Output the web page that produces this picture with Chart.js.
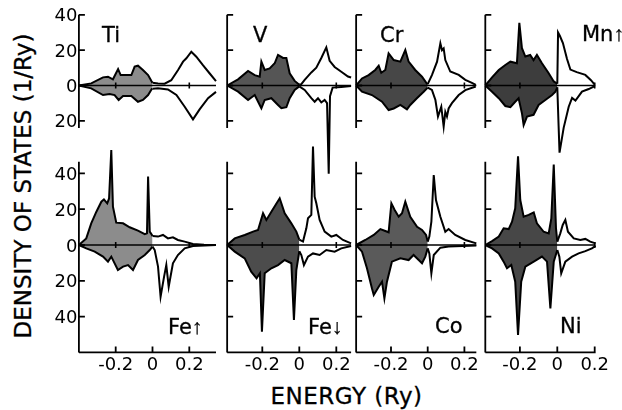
<!DOCTYPE html>
<html lang="en">
<head>
<meta charset="UTF-8" />
<title>Density of states</title>
<script src="https://cdn.jsdelivr.net/npm/chart.js"></script>
<style>
  body { margin: 0; background: #fff; }
  #fig { position: relative; width: 622px; height: 410px; overflow: hidden; font-family: "DejaVu Sans", sans-serif; color: #000; }
  #fig canvas { position: absolute; left: 0; top: 0; }
  .lbl { position: absolute; font-size: 21px; line-height: 21px; white-space: nowrap; -webkit-text-stroke: 0.3px #000; }
  .arrow { font-family: "Liberation Sans", sans-serif; }
  #ytitle { position: absolute; left: -137.5px; top: 173px; width: 320px; height: 26px; line-height: 26px; font-size: 23px; text-align: center; transform: rotate(-90deg); white-space: nowrap; -webkit-text-stroke: 0.3px #000; }
  #xtitle { position: absolute; left: 246.5px; width: 200px; top: 385px; font-size: 23px; line-height: 23px; text-align: center; letter-spacing: 0.5px; white-space: nowrap; -webkit-text-stroke: 0.3px #000; }
</style>
</head>
<body>
<div id="fig">
  <div id="ytitle">DENSITY OF STATES (1/Ry)</div>
  <div id="xtitle">ENERGY (Ry)</div>
</div>
<script>
  // ticks
  const energyTicks = [-0.2, 0, 0.2];
  const dosTicksTop = [40, 20, 0, -20];
  const dosTicksBottom = [40, 20, 0, -20, -40];

  const metals = ['Ti', 'V', 'Cr', 'Mn↑', 'Fe↑', 'Fe↓', 'Co', 'Ni'];

  // [energy (Ry), DOS (1/Ry)] ; majority up, minority plotted negative
  const tiUp = [[-0.4,0],[-0.333,1.2],[-0.269,4.6],[-0.242,5.0],[-0.215,3.5],[-0.187,9.3],[-0.173,5.9],[-0.115,5.9],[-0.097,10.7],[-0.079,11.2],[-0.052,8.8],[-0.024,5.9],[-0.006,2.5],[0,1.5],[0.030,1.2],[0.066,1.0],[0.102,3.0],[0.139,8.8],[0.166,13.5],[0.184,15.4],[0.211,19.1],[0.238,16.3],[0.274,11.5],[0.311,6.8],[0.345,2.5]];
  const tiDown = [[-0.4,0],[-0.333,-1.6],[-0.269,-5.4],[-0.233,-4.8],[-0.206,-5.4],[-0.184,-8.2],[-0.160,-5.9],[-0.115,-5.9],[-0.079,-9.2],[-0.052,-8.2],[-0.024,-5.4],[-0.004,-2.0],[0,-1.8],[0.030,-1.6],[0.084,-2.2],[0.130,-5.4],[0.175,-12.0],[0.220,-19.2],[0.256,-13.5],[0.302,-7.2],[0.345,-3.6]];

  const vUp = [[-0.39,0],[-0.331,3.5],[-0.277,8.2],[-0.241,5.9],[-0.214,5.0],[-0.205,13.5],[-0.187,8.8],[-0.160,9.7],[-0.133,12.6],[-0.115,17.3],[-0.088,15.6],[-0.070,15.6],[-0.052,6.9],[-0.025,2.6],[0,0.4],[0.011,0.8],[0.029,3.2],[0.065,7.4],[0.092,10.1],[0.119,15.6],[0.146,21.6],[0.164,14.0],[0.191,10.5],[0.227,7.8],[0.263,5.1],[0.28,4.5]];
  const vDown = [[-0.39,0],[-0.331,-3.5],[-0.277,-8.2],[-0.241,-5.4],[-0.205,-12.9],[-0.187,-8.2],[-0.151,-7.2],[-0.115,-11.0],[-0.097,-12.9],[-0.070,-12.3],[-0.052,-7.2],[-0.025,-2.5],[0,-0.5],[0.029,-2.5],[0.065,-7.2],[0.083,-9.2],[0.101,-7.2],[0.119,-9.6],[0.137,-8.2],[0.150,-10.0],[0.159,-50.0],[0.166,-6.0],[0.180,-1.2],[0.227,-0.8],[0.28,-0.3]];

  const crUp = [[-0.39,0],[-0.358,4.0],[-0.322,5.9],[-0.286,8.8],[-0.267,11.2],[-0.253,7.2],[-0.231,8.8],[-0.213,18.2],[-0.185,14.4],[-0.149,13.5],[-0.122,20.1],[-0.104,13.5],[-0.068,8.8],[-0.031,5.0],[-0.004,1.0],[0,0.8],[0.023,5.9],[0.051,13.5],[0.069,23.9],[0.078,20.0],[0.087,21.0],[0.096,14.4],[0.123,7.9],[0.169,6.0],[0.205,3.2],[0.241,1.5],[0.262,0.3]];
  const crDown = [[-0.39,0],[-0.358,-3.5],[-0.304,-5.4],[-0.249,-9.2],[-0.213,-13.9],[-0.185,-13.0],[-0.149,-11.0],[-0.113,-13.5],[-0.095,-11.0],[-0.059,-7.2],[-0.022,-3.5],[0,-1.2],[0.023,-2.5],[0.042,-8.2],[0.056,-17.6],[0.074,-12.0],[0.087,-23.3],[0.096,-15.0],[0.105,-17.6],[0.114,-13.0],[0.132,-10.0],[0.169,-5.4],[0.205,-2.6],[0.262,-0.6]];

  const mnUp = [[-0.385,0],[-0.349,4.6],[-0.313,8.8],[-0.278,11.6],[-0.251,13.5],[-0.216,12.6],[-0.203,35.5],[-0.189,21.1],[-0.171,16.4],[-0.145,17.3],[-0.127,14.4],[-0.109,17.3],[-0.082,12.6],[-0.046,6.9],[-0.019,2.3],[0,1.0],[0.004,30.0],[0.014,28.0],[0.030,24.0],[0.052,15.0],[0.070,9.0],[0.104,7.6],[0.150,6.0],[0.180,3.0],[0.200,0.5]];
  const mnDown = [[-0.385,0],[-0.349,-3.5],[-0.313,-7.2],[-0.278,-11.6],[-0.251,-12.3],[-0.225,-9.2],[-0.207,-7.2],[-0.189,-15.8],[-0.180,-22.4],[-0.162,-17.6],[-0.127,-16.6],[-0.100,-11.0],[-0.064,-8.2],[-0.028,-5.4],[-0.010,-3.5],[0,-1.0],[0.007,-23.0],[0.012,-38.0],[0.034,-24.0],[0.061,-12.0],[0.079,-7.0],[0.097,-8.5],[0.132,-3.5],[0.168,-2.0],[0.200,-0.3]];

  const feUpUp = [[-0.4,0],[-0.36,3.7],[-0.333,12.1],[-0.305,18.6],[-0.278,24.2],[-0.264,25.5],[-0.246,23.3],[-0.236,26.0],[-0.224,53.0],[-0.215,21.4],[-0.197,12.5],[-0.160,12.1],[-0.124,9.9],[-0.079,8.0],[-0.042,6.1],[-0.030,6.5],[-0.024,38.2],[-0.015,7.5],[-0.003,5.6],[0,5.0],[0.030,4.7],[0.057,5.6],[0.084,3.7],[0.111,4.3],[0.138,2.8],[0.175,1.9],[0.220,0.6],[0.280,0.2],[0.345,0]];
  const feUpDown = [[-0.4,0],[-0.36,-1.9],[-0.314,-3.7],[-0.269,-6.5],[-0.242,-9.3],[-0.224,-6.5],[-0.188,-14.0],[-0.160,-12.1],[-0.133,-11.2],[-0.106,-14.0],[-0.079,-8.4],[-0.042,-5.6],[-0.015,-2.8],[0,-0.9],[0.012,-2.8],[0.030,-12.1],[0.044,-28.9],[0.063,-17.7],[0.075,-11.2],[0.088,-23.3],[0.111,-10.2],[0.138,-5.6],[0.175,-1.9],[0.220,-0.6],[0.345,0]];

  const feDnUp = [[-0.39,0],[-0.349,3.7],[-0.295,5.6],[-0.250,7.5],[-0.223,8.4],[-0.196,17.7],[-0.178,14.0],[-0.151,18.6],[-0.106,26.1],[-0.079,17.7],[-0.043,12.1],[-0.016,7.5],[0,3.0],[0.020,1.9],[0.038,9.3],[0.047,14.9],[0.065,16.8],[0.074,55.0],[0.083,27.0],[0.092,23.3],[0.110,14.0],[0.137,7.5],[0.173,4.7],[0.200,5.6],[0.236,2.8],[0.280,0.9]];
  const feDnDown = [[-0.39,0],[-0.349,-3.7],[-0.295,-7.5],[-0.260,-14.9],[-0.231,-18.6],[-0.213,-15.8],[-0.202,-48.4],[-0.187,-15.8],[-0.151,-13.0],[-0.115,-11.2],[-0.079,-8.4],[-0.043,-10.2],[-0.029,-41.9],[-0.016,-14.0],[0,-3.5],[0.011,-5.6],[0.025,-11.2],[0.047,-6.5],[0.074,-4.7],[0.110,-5.6],[0.146,-2.8],[0.191,-3.7],[0.227,-1.9],[0.280,-0.6]];

  const coUp = [[-0.39,0],[-0.340,2.8],[-0.294,5.6],[-0.258,8.9],[-0.231,7.8],[-0.213,7.1],[-0.198,23.3],[-0.180,19.6],[-0.158,15.8],[-0.140,17.7],[-0.122,24.2],[-0.095,15.8],[-0.058,10.2],[-0.031,8.4],[-0.009,5.6],[0,1.9],[0.009,4.7],[0.020,13.0],[0.033,39.1],[0.045,25.1],[0.069,15.8],[0.096,7.4],[0.114,8.9],[0.150,5.6],[0.205,2.8],[0.265,0.9]];
  const coDown = [[-0.39,0],[-0.358,-3.7],[-0.331,-13.0],[-0.304,-24.2],[-0.294,-27.9],[-0.267,-23.3],[-0.249,-20.5],[-0.236,-29.8],[-0.222,-20.5],[-0.195,-9.3],[-0.149,-7.4],[-0.104,-8.4],[-0.077,-5.6],[-0.049,-8.4],[-0.031,-10.2],[-0.013,-6.5],[0,-1.9],[0.009,-4.7],[0.020,-15.8],[0.033,-5.6],[0.069,-1.5],[0.114,-0.9],[0.265,-0.3]];

  const niUp = [[-0.385,0],[-0.349,2.2],[-0.313,4.7],[-0.287,9.3],[-0.260,8.9],[-0.242,13.0],[-0.225,20.5],[-0.210,49.5],[-0.198,25.1],[-0.180,15.8],[-0.153,16.8],[-0.126,18.2],[-0.109,12.1],[-0.073,7.4],[-0.046,6.5],[-0.032,14.9],[-0.019,45.0],[-0.007,9.3],[0,1.9],[0.016,6.5],[0.029,11.2],[0.043,14.0],[0.057,7.4],[0.088,3.7],[0.123,2.8],[0.150,3.4],[0.176,1.9],[0.205,0.9]];
  const niDown = [[-0.385,0],[-0.349,-1.9],[-0.313,-4.7],[-0.287,-9.3],[-0.269,-13.0],[-0.246,-11.2],[-0.225,-20.5],[-0.210,-50.3],[-0.193,-20.5],[-0.171,-12.1],[-0.126,-9.3],[-0.082,-6.5],[-0.055,-9.3],[-0.037,-35.4],[-0.019,-9.3],[0,-2.8],[0.011,-6.5],[0.021,-15.8],[0.043,-9.3],[0.079,-6.5],[0.114,-4.7],[0.150,-3.4],[0.185,-1.9],[0.205,-0.5]];

  const curves = [[tiUp, tiDown], [vUp, vDown], [crUp, crDown], [mnUp, mnDown],
                  [feUpUp, feUpDown], [feDnUp, feDnDown], [coUp, coDown], [niUp, niDown]];

  // layout / style
  const fillColors = ['#8c8c8c', '#555555', '#474747', '#3d3d3d', '#8c8c8c', '#4c4c4c', '#5a5a5a', '#474747'];
  const cols = [
    { x0: 152.5, ppu: 184,   min: -0.4,   max: 0.345 },
    { x0: 299.3, ppu: 185,   min: -0.39,  max: 0.28 },
    { x0: 427.7, ppu: 183.5, min: -0.39,  max: 0.265 },
    { x0: 557.3, ppu: 187,   min: -0.385, max: 0.205 }
  ];
  const rows = [
    { y0: 85.5, ppv: 1.766, min: -52, max: 42, axisLo: -24, axisHi: 40,   ticks: dosTicksTop,    base: false },
    { y0: 245,  ppv: 1.79,  min: -60, max: 57, axisLo: -60, axisHi: 46.5, ticks: dosTicksBottom, base: true }
  ];
  const labelPos = [[102, 24.5], [253, 24.5], [380, 24.5], [582, 22.5], [168, 315.5], [308, 315.5], [435, 315.5], [560, 315.5]];

  const W = 622, H = 410;
  const fig = document.getElementById('fig');

  function makeFrame(r, c) {
    return {
      id: 'frame',
      afterDatasetsDraw(chart) {
        const { ctx, chartArea: a, scales: { x, y } } = chart;
        ctx.save();
        ctx.strokeStyle = '#000';
        ctx.fillStyle = '#000';
        ctx.lineWidth = 1.6;
        ctx.font = '18px "DejaVu Sans"';

        // zero line
        const yz = y.getPixelForValue(0);
        ctx.beginPath();
        ctx.moveTo(a.left, yz);
        ctx.lineTo(a.right, yz);
        energyTicks.forEach(e => {
          if (e === 0 || e >= x.max) return;
          const px = x.getPixelForValue(e);
          ctx.moveTo(px, yz - 3);
          ctx.lineTo(px, yz + 3);
        });
        ctx.stroke();

        // left axis with inward ticks
        ctx.lineWidth = 1.8;
        const yTop = y.getPixelForValue(r.axisHi);
        const yBot = y.getPixelForValue(r.axisLo);
        ctx.beginPath();
        ctx.moveTo(a.left, yTop);
        ctx.lineTo(a.left, yBot);
        r.ticks.forEach(v => {
          const py = y.getPixelForValue(v);
          ctx.moveTo(a.left, py);
          ctx.lineTo(a.left + 6, py);
        });
        ctx.stroke();
        if (c === 0) {
          ctx.textAlign = 'right';
          r.ticks.forEach(v => {
            ctx.fillText(String(Math.abs(v)), a.left - 1.5, y.getPixelForValue(v) + 6.5);
          });
        }

        // bottom axis
        if (r.base) {
          ctx.beginPath();
          ctx.moveTo(a.left, yBot);
          ctx.lineTo(a.right, yBot);
          energyTicks.forEach(e => {
            const px = x.getPixelForValue(e);
            ctx.moveTo(px, yBot);
            ctx.lineTo(px, yBot - 6);
          });
          ctx.stroke();
          ctx.textAlign = 'center';
          energyTicks.forEach(e => {
            ctx.fillText(e === 0 ? '0' : e.toFixed(1), x.getPixelForValue(e), yBot + 17.6);
          });
        }
        ctx.restore();
      }
    };
  }

  metals.forEach((name, i) => {
    const r = rows[i < 4 ? 0 : 1];
    const c = cols[i % 4];

    const canvas = document.createElement('canvas');
    canvas.width = W;
    canvas.height = H;
    fig.appendChild(canvas);

    const lbl = document.createElement('div');
    lbl.className = 'lbl';
    lbl.style.left = labelPos[i][0] + 'px';
    lbl.style.top = labelPos[i][1] + 'px';
    lbl.innerHTML = name.replace(/[↑↓]/, m => '<span class="arrow">' + m + '</span>');
    fig.appendChild(lbl);

    const datasets = [];
    curves[i].forEach(curve => {
      const occupied = curve.filter(p => p[0] <= 0).map(p => ({ x: p[0], y: p[1] }));
      const empty = curve.filter(p => p[0] >= 0).map(p => ({ x: p[0], y: p[1] }));
      datasets.push({ data: occupied, borderColor: '#000', borderWidth: 2, backgroundColor: fillColors[i],
                      fill: 'origin', pointRadius: 0, tension: 0, clip: false });
      datasets.push({ data: empty, borderColor: '#000', borderWidth: 2, fill: false,
                      pointRadius: 0, tension: 0, clip: false });
    });

    new Chart(canvas.getContext('2d'), {
      type: 'line',
      data: { datasets },
      options: {
        responsive: false,
        animation: false,
        events: [],
        devicePixelRatio: 1,
        layout: {
          padding: {
            left: c.x0 + c.min * c.ppu,
            right: W - (c.x0 + c.max * c.ppu),
            top: r.y0 - r.max * r.ppv,
            bottom: H - (r.y0 - r.min * r.ppv)
          }
        },
        plugins: { legend: { display: false }, tooltip: { enabled: false } },
        scales: {
          x: { type: 'linear', min: c.min, max: c.max, display: false },
          y: { type: 'linear', min: r.min, max: r.max, display: false }
        }
      },
      plugins: [makeFrame(r, i % 4)]
    });
  });
</script>
</body>
</html>
